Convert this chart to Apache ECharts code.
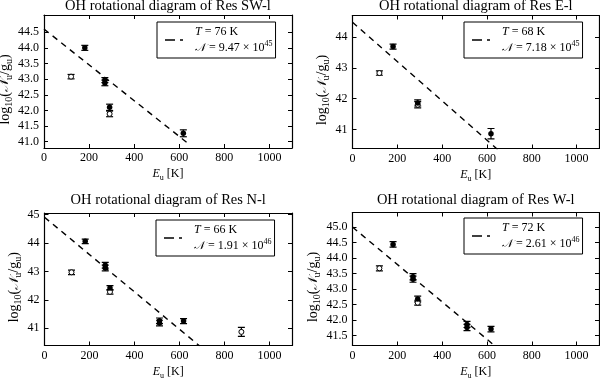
<!DOCTYPE html>
<html>
<head>
<meta charset="utf-8">
<script src="https://cdn.jsdelivr.net/npm/echarts@6/dist/echarts.min.js"></script>
<style>html,body{margin:0;padding:0;background:#fff}#c{width:600px;height:378px}</style>
</head>
<body>
<div id="c"></div>
<script>
// ---------- data ----------
const titles = ['OH rotational diagram of Res SW-l', 'OH rotational diagram of Res E-l', 'OH rotational diagram of Res N-l', 'OH rotational diagram of Res W-l'];
const fitT = ['76', '68', '66', '72'];
const fitN = ['9.47', '7.18', '1.91', '2.61'];
const fitExp = ['45', '45', '46', '46'];

const xTicks = [0, 200, 400, 600, 800, 1000];
const yTicks1 = [41.0, 41.5, 42.0, 42.5, 43.0, 43.5, 44.0, 44.5];
const yTicks2 = [41, 42, 43, 44];
const yTicks3 = [41, 42, 43, 44, 45];
const yTicks4 = [41.5, 42.0, 42.5, 43.0, 43.5, 44.0, 44.5, 45.0];

// Res SW-l
const swFilledE = [181, 270, 270, 291, 618];
const swFilledV = [44.00, 42.97, 42.88, 42.10, 41.27];
const swFilledErr = [0.08, 0.08, 0.09, 0.10, 0.11];
const swOpenE = [120, 291];
const swOpenV = [43.08, 41.89];
const swOpenErr = [0.07, 0.09];
const swFitE = [0, 640];
const swFitV = [44.60, 40.94];

// Res E-l
const eFilledE = [181, 291, 618];
const eFilledV = [43.69, 41.86, 40.86];
const eFilledErr = [0.08, 0.10, 0.17];
const eOpenE = [120, 291];
const eOpenV = [42.83, 41.80];
const eOpenErr = [0.07, 0.10];
const eFitE = [0, 650];
const eFitV = [44.48, 40.33];

// Res N-l
const nFilledE = [181, 270, 270, 291, 511, 511, 618];
const nFilledV = [44.06, 43.22, 43.12, 42.42, 41.26, 41.18, 41.25];
const nFilledErr = [0.08, 0.10, 0.10, 0.08, 0.10, 0.10, 0.09];
const nOpenE = [120, 291, 875];
const nOpenV = [42.97, 42.28, 40.87];
const nOpenErr = [0.08, 0.08, 0.16];
const nFitE = [0, 690];
const nFitV = [44.91, 40.37];

// Res W-l
const wFilledE = [181, 270, 270, 291, 511, 511, 618];
const wFilledV = [44.44, 43.40, 43.32, 42.68, 41.86, 41.76, 41.71];
const wFilledErr = [0.09, 0.10, 0.10, 0.09, 0.10, 0.10, 0.09];
const wOpenE = [120, 291];
const wOpenV = [43.67, 42.56];
const wOpenErr = [0.08, 0.08];
const wFitE = [0, 625];
const wFitV = [45.00, 41.23];

const yRanges = [[40.80, 45.05], [40.38, 44.70], [40.39, 45.06], [41.18, 45.47]];

// ---------- layout / styling ----------
const FONT = 'Liberation Serif';
const panels = [
  {fE: swFilledE, fV: swFilledV, fErr: swFilledErr, oE: swOpenE, oV: swOpenV, oErr: swOpenErr, lE: swFitE, lV: swFitV, yTicks: yTicks1, dec: 1},
  {fE: eFilledE, fV: eFilledV, fErr: eFilledErr, oE: eOpenE, oV: eOpenV, oErr: eOpenErr, lE: eFitE, lV: eFitV, yTicks: yTicks2, dec: 0},
  {fE: nFilledE, fV: nFilledV, fErr: nFilledErr, oE: nOpenE, oV: nOpenV, oErr: nOpenErr, lE: nFitE, lV: nFitV, yTicks: yTicks3, dec: 0},
  {fE: wFilledE, fV: wFilledV, fErr: wFilledErr, oE: wOpenE, oV: wOpenV, oErr: wOpenErr, lE: wFitE, lV: wFitV, yTicks: yTicks4, dec: 1}
];
const grids = [
  {left: 44, top: 15, width: 248, height: 133},
  {left: 352.5, top: 15.5, width: 246.5, height: 133},
  {left: 44.5, top: 213, width: 247.5, height: 132.5},
  {left: 352.5, top: 212.5, width: 246.5, height: 133}
];
const yNameGaps = [28, 21, 21, 28.5];
const legendPos = [{left: 157, top: 22}, {left: 464, top: 22}, {left: 156, top: 220}, {left: 464, top: 218}];
const titleTops = [-1, -1, 193, 193];

const black = '#000';
const axisLineStyle = {color: black, width: 1.2};
const txt = {fontFamily: FONT, fontSize: 12, color: black};

const rich = {
  i: {fontFamily: FONT, fontSize: 12, fontStyle: 'italic', color: black, lineHeight: 16},
  r: {fontFamily: FONT, fontSize: 12, color: black, lineHeight: 16},
  s: {fontFamily: FONT, fontSize: 8, color: black, lineHeight: 8, verticalAlign: 'bottom'},
  sup: {fontFamily: FONT, fontSize: 8, color: black, lineHeight: 8, verticalAlign: 'top'},
  n: {fontFamily: 'DejaVu Serif', fontSize: 11, fontStyle: 'italic', color: black, lineHeight: 16},
  R: {fontFamily: FONT, fontSize: 14, color: black, lineHeight: 18},
  S: {fontFamily: FONT, fontSize: 10, color: black, lineHeight: 9, verticalAlign: 'bottom'},
  N: {fontFamily: 'DejaVu Serif', fontSize: 13, fontStyle: 'italic', color: black, lineHeight: 18}
};

const xAxes = [], yAxes = [], series = [], legends = [], titleArr = [];

panels.forEach((p, i) => {
  const g = grids[i];
  const cx = g.left + g.width / 2;
  titleArr.push({
    text: titles[i], left: cx, top: titleTops[i], textAlign: 'center', padding: 0,
    textStyle: {fontFamily: FONT, fontSize: 14.5, fontWeight: 'normal', color: black}
  });
  // bottom x
  xAxes.push({
    gridIndex: i, type: 'value', min: 0, max: 1100, position: 'bottom',
    axisLine: {onZero: false, lineStyle: axisLineStyle},
    axisTick: {inside: true, length: 4, customValues: xTicks, lineStyle: {color: black, width: 1}},
    axisLabel: Object.assign({customValues: xTicks, margin: 4, formatter: v => String(v)}, txt),
    splitLine: {show: false},
    name: '{i|E}{s|u} [K]', nameLocation: 'middle', nameGap: 18,
    nameTextStyle: Object.assign({lineHeight: 16, rich: rich}, txt)
  });
  // top x
  xAxes.push({
    gridIndex: i, type: 'value', min: 0, max: 1100, position: 'top',
    axisLine: {onZero: false, lineStyle: axisLineStyle},
    axisTick: {inside: true, length: 4, customValues: xTicks, lineStyle: {color: black, width: 1}},
    axisLabel: {show: false}, splitLine: {show: false}
  });
  const r = yRanges[i];
  yAxes.push({
    gridIndex: i, type: 'value', min: r[0], max: r[1], position: 'left',
    axisLine: {onZero: false, lineStyle: axisLineStyle},
    axisTick: {inside: true, length: 4, customValues: p.yTicks, lineStyle: {color: black, width: 1}},
    axisLabel: Object.assign({customValues: p.yTicks, margin: 5, formatter: v => Number(v).toFixed(p.dec)}, txt),
    splitLine: {show: false},
    name: '{R|log}{S|10}{R|(}{N|𝒩}{S|u}{R|/g}{S|u}{R|)}', nameLocation: 'middle', nameGap: yNameGaps[i], nameRotate: 90,
    nameTextStyle: Object.assign({lineHeight: 18, padding: [0, 16, 0, 0], rich: rich}, txt)
  });
  yAxes.push({
    gridIndex: i, type: 'value', min: r[0], max: r[1], position: 'right',
    axisLine: {onZero: false, lineStyle: axisLineStyle},
    axisTick: {inside: true, length: 4, customValues: p.yTicks, lineStyle: {color: black, width: 1}},
    axisLabel: {show: false}, splitLine: {show: false}
  });
  const xi = i * 2, yi = i * 2;
  const errItem = (E, V, Err) => E.map((e, k) => [e, V[k] - Err[k], V[k] + Err[k]]);
  const renderErr = (params, api) => {
    const x = api.value(0);
    const p1 = api.coord([x, api.value(2)]);
    const p2 = api.coord([x, api.value(1)]);
    const w = 3.5;
    const st = {stroke: black, lineWidth: 1.2};
    return {type: 'group', children: [
      {type: 'line', shape: {x1: p1[0], y1: p1[1], x2: p2[0], y2: p2[1]}, style: st},
      {type: 'line', shape: {x1: p1[0] - w, y1: p1[1], x2: p1[0] + w, y2: p1[1]}, style: st},
      {type: 'line', shape: {x1: p2[0] - w, y1: p2[1], x2: p2[0] + w, y2: p2[1]}, style: st}
    ]};
  };
  series.push({
    type: 'custom', name: 'errO' + i, xAxisIndex: xi, yAxisIndex: yi, clip: true, silent: true,
    data: errItem(p.oE, p.oV, p.oErr), encode: {x: 0, y: [1, 2]}, renderItem: renderErr, z: 2
  });
  series.push({
    type: 'custom', name: 'errF' + i, xAxisIndex: xi, yAxisIndex: yi, clip: true, silent: true,
    data: errItem(p.fE, p.fV, p.fErr), encode: {x: 0, y: [1, 2]}, renderItem: renderErr, z: 2
  });
  series.push({
    type: 'scatter', name: 'open' + i, xAxisIndex: xi, yAxisIndex: yi, symbolSize: 5, silent: true,
    itemStyle: {color: '#fff', borderColor: black, borderWidth: 1, opacity: 1},
    data: p.oE.map((e, k) => [e, p.oV[k]]), z: 3
  });
  series.push({
    type: 'scatter', name: 'filled' + i, xAxisIndex: xi, yAxisIndex: yi, symbolSize: 5.5, silent: true,
    itemStyle: {color: black, opacity: 1},
    data: p.fE.map((e, k) => [e, p.fV[k]]), z: 4
  });
  series.push({
    type: 'line', name: 'fit' + i, xAxisIndex: xi, yAxisIndex: yi, showSymbol: false, symbol: 'none', silent: true,
    color: black, clip: true,
    lineStyle: {color: black, width: 1.4, type: [6, 5]},
    data: p.lE.map((e, k) => [e, p.lV[k]]), z: 5
  });
  legends.push({
    data: ['fit' + i], left: legendPos[i].left, top: legendPos[i].top, orient: 'vertical',
    padding: [2, 3, 2, 8], borderColor: black, borderWidth: 1, borderRadius: 0, backgroundColor: '#fff',
    selectedMode: false,
    icon: 'path://M0,0H10V1.5H0Z M15,0H18V1.5H15Z', itemWidth: 18, itemHeight: 1.5,
    itemStyle: {color: black, borderWidth: 0},
    formatter: () => '{i|T}{r| = ' + fitT[i] + ' K}\n{n|𝒩}{r| = ' + fitN[i] + ' × 10}{sup|' + fitExp[i] + '}',
    textStyle: Object.assign({lineHeight: 16, padding: [0, 0, 0, 7], rich: rich}, txt)
  });
});

const chart = echarts.init(document.getElementById('c'), null, {renderer: 'canvas'});
chart.setOption({
  animation: false,
  backgroundColor: '#fff',
  title: titleArr,
  grid: grids.map(g => Object.assign({containLabel: false, outerBoundsMode: 'none'}, g)),
  xAxis: xAxes,
  yAxis: yAxes,
  legend: legends,
  series: series
});
</script>
</body>
</html>
